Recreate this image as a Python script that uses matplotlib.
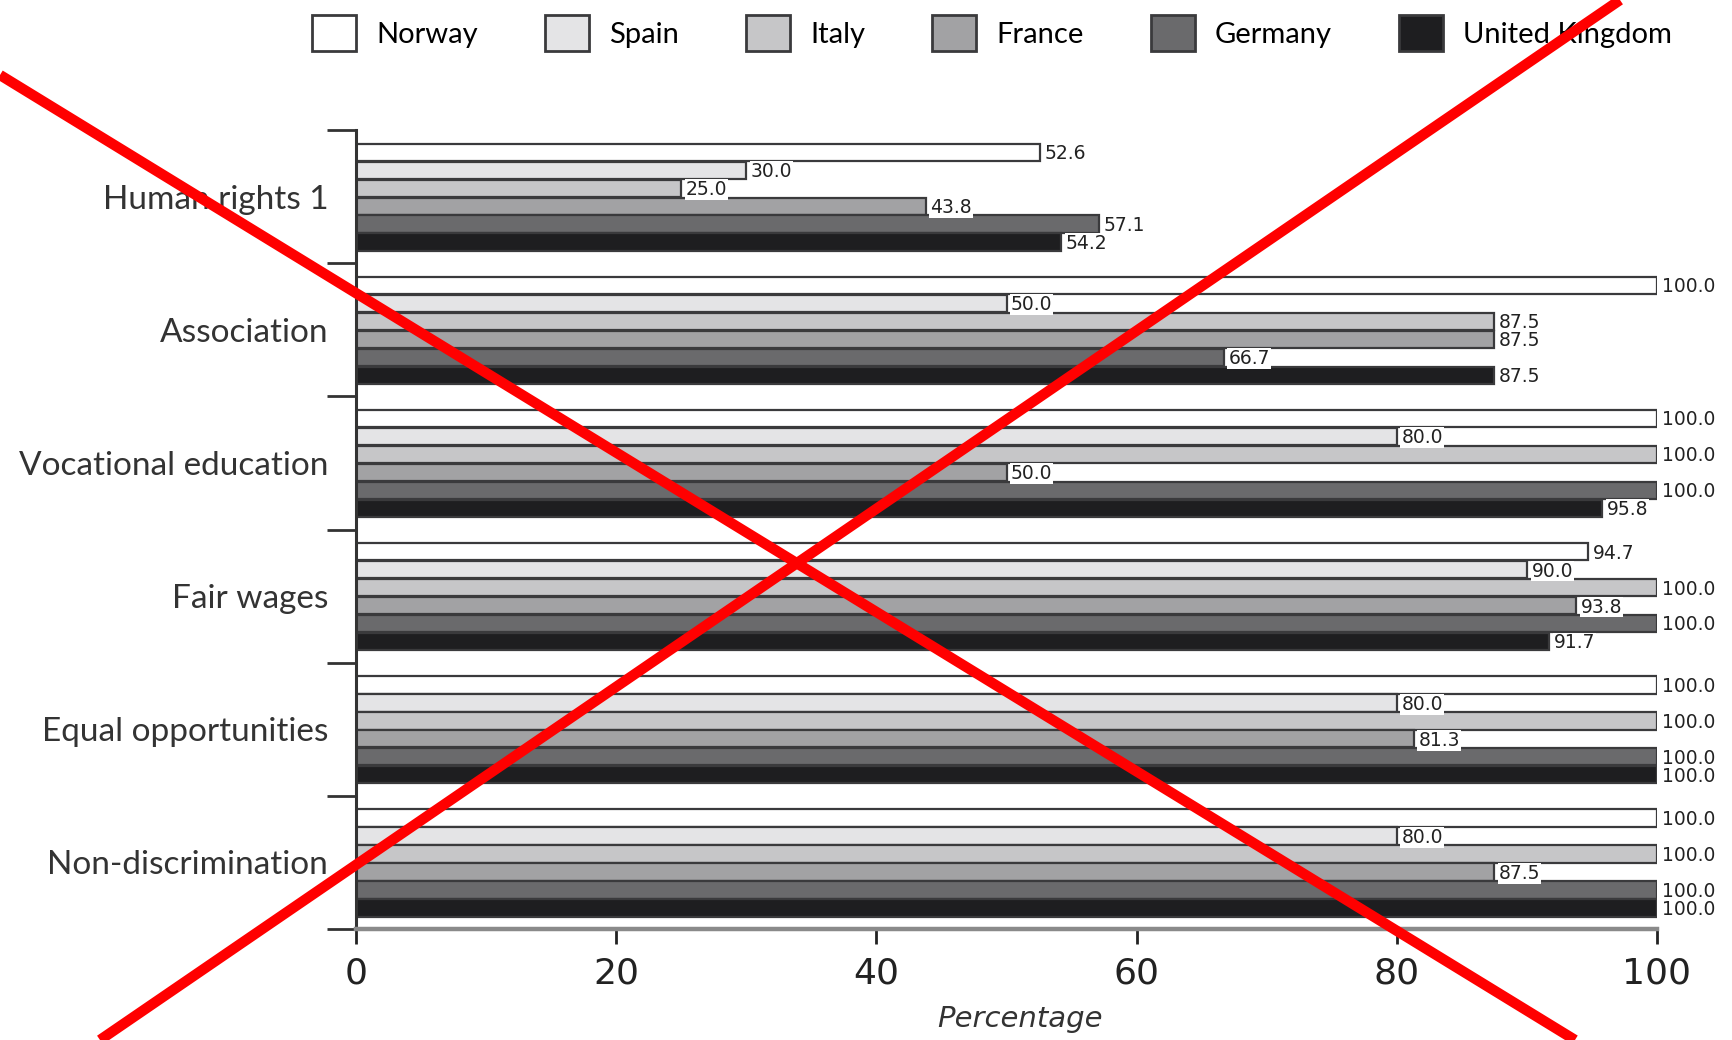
import matplotlib
matplotlib.use("Agg")
import matplotlib.pyplot as plt
import numpy as np
from matplotlib import font_manager as fm
from matplotlib.lines import Line2D
from matplotlib.patches import Patch

# Survey results: share of respondents per country and topic
categories = ["Human rights 1", "Association", "Vocational education",
              "Fair wages", "Equal opportunities", "Non-discrimination"]
countries = ["Norway", "Spain", "Italy", "France", "Germany", "United Kingdom"]

norway = [52.6, 100.0, 100.0, 94.7, 100.0, 100.0]
spain = [30.0, 50.0, 80.0, 90.0, 80.0, 80.0]
italy = [25.0, 87.5, 100.0, 100.0, 100.0, 100.0]
france = [43.8, 87.5, 50.0, 93.8, 81.3, 87.5]
germany = [57.1, 66.7, 100.0, 100.0, 100.0, 100.0]
united_kingdom = [54.2, 87.5, 95.8, 91.7, 100.0, 100.0]

series = [norway, spain, italy, france, germany, united_kingdom]
fills = ["#ffffff", "#e4e4e6", "#c6c6c8", "#a2a2a4", "#6a6a6c", "#1e1e20"]
edge = "#3a3a3c"

x_ticks = [0, 20, 40, 60, 80, 100]

installed = {f.name for f in fm.fontManager.ttflist}
narrow = "Liberation Sans Narrow" if "Liberation Sans Narrow" in installed else "DejaVu Sans"
label_font = "Lato" if "Lato" in installed else "DejaVu Sans"

fig = plt.figure(figsize=(17.33, 10.4), dpi=100)
ax = fig.add_axes([356 / 1733, 1 - 929 / 1040, (1657 - 356) / 1733, (929 - 130) / 1040])

step = 0.135
bar_h = 0.13
first = 0.167
for j, (vals, fc) in enumerate(zip(series, fills)):
    ys = np.arange(len(categories)) + first + j * step
    ax.barh(ys, vals, height=bar_h, color=fc, edgecolor=edge, linewidth=1.6, zorder=2)
    for y, v in zip(ys, vals):
        ax.text(v + 0.35, y + 0.01, f"{v:.1f}", ha="left", va="center",
                fontsize=13.5, family=narrow, color="#222222", zorder=4,
                bbox=dict(boxstyle="square,pad=0.05", fc="white", ec="none"))

ax.set_xlim(0, 100)
ax.set_ylim(len(categories), 0)

# category names at group centres, tick marks at group boundaries
ax.set_yticks(np.arange(len(categories)) + 0.5)
ax.set_yticklabels(categories, fontsize=24, family=label_font, color="#333333")
ax.set_yticks(np.arange(len(categories) + 1), minor=True)
ax.tick_params(axis="y", which="major", length=0, pad=20)
ax.tick_params(axis="y", which="minor", length=21, width=2, color="#333333", direction="out")

ax.set_xticks(x_ticks)
ax.set_xticklabels([str(t) for t in x_ticks], fontsize=26, family=narrow, color="#222222")
ax.tick_params(axis="x", length=11, width=2, color="#222222", pad=9)

ax.set_xlabel("Percentage", fontsize=21, family=narrow, style="italic", color="#333333", labelpad=10)
ax.xaxis.label.set_x(0.51)

for side in ("top", "right"):
    ax.spines[side].set_visible(False)
ax.spines["left"].set_color("#333333")
ax.spines["left"].set_linewidth(2.2)
ax.spines["bottom"].set_color("#8a8a8a")
ax.spines["bottom"].set_linewidth(3.2)

handles = [Patch(facecolor=fc, edgecolor=edge, linewidth=2) for fc in fills]
fig.legend(handles, countries, loc="center", bbox_to_anchor=(992 / 1733, 1 - 33 / 1040),
           ncol=6, frameon=False, handlelength=1.5, handleheight=1.5,
           handletextpad=0.7, columnspacing=2.3, prop={"family": label_font, "size": 21})

# red cross over the whole figure
fig.add_artist(Line2D([0, 1575 / 1733], [1 - 75 / 1040, 0], transform=fig.transFigure,
                      color="#ff0000", linewidth=7.5, zorder=10, solid_capstyle="butt"))
fig.add_artist(Line2D([100 / 1733, 1620 / 1733], [0, 1], transform=fig.transFigure,
                      color="#ff0000", linewidth=7.5, zorder=10, solid_capstyle="butt"))

fig.savefig("out.png", dpi=100, facecolor="white")
